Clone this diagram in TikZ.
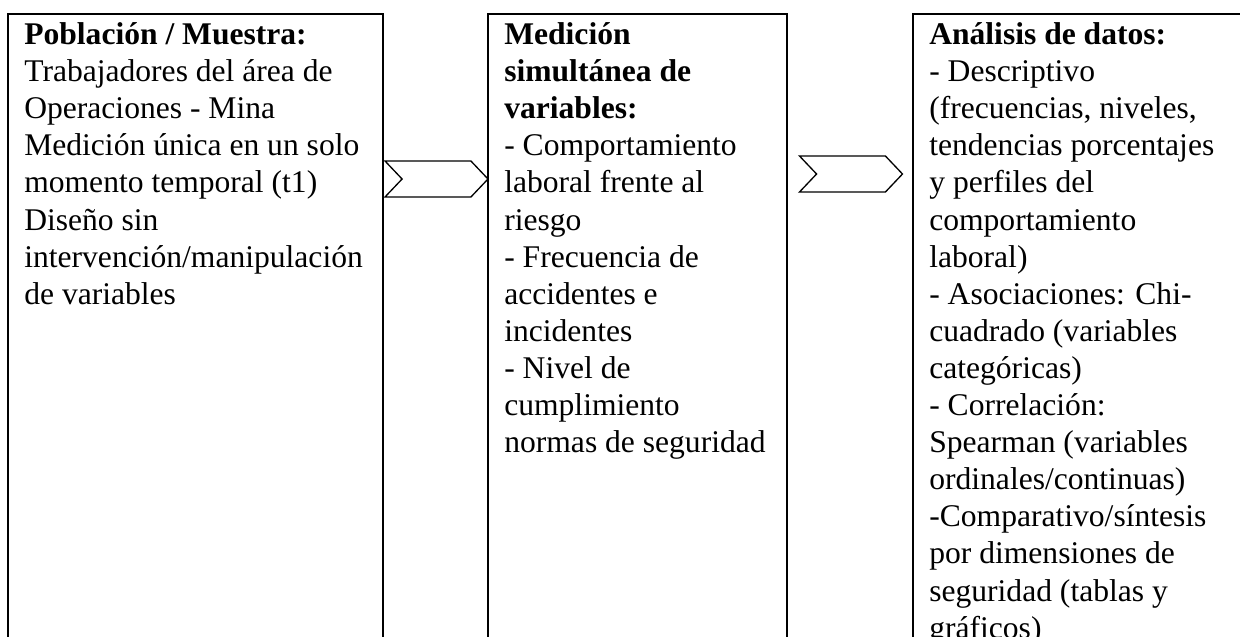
\documentclass[tikz,border=0pt]{standalone}
\usepackage{fontspec}
\setmainfont{Liberation Serif}
\usetikzlibrary{shapes.symbols}

\def\pxu{0.38pt}
\newcommand{\alto}{\rule{0pt}{11.4pt}}
\tikzstyle{panel}=[draw, line width=0.76pt, inner sep=0pt, outer sep=0pt, anchor=north west, minimum height=700*\pxu]
\tikzstyle{txt}=[anchor=north west, align=left, inner xsep=6pt, inner ysep=0pt, font=\fontsize{12pt}{14.1pt}\selectfont]
\tikzstyle{chevron}=[draw, line width=0.5pt, signal, signal from=west, signal to=east, signal pointer angle=93, inner sep=0pt, minimum height=36*\pxu, minimum width=103*\pxu]

\begin{document}
\begin{tikzpicture}[x=0.38pt, y=-0.38pt]
      \useasboundingbox (0,0) rectangle (1240,637);
      \clip (0,0) rectangle (1240,637);

      \node[panel, minimum width=375*\pxu] (pob) at (8,14) {};
      \node[panel, minimum width=299*\pxu] (med) at (488,14) {};
      \node[panel, minimum width=340*\pxu] (ana) at (913,14) {};

      \node[txt] (pobtxt) at (pob.north west) {\alto\textbf{Población / Muestra:}\\
        Trabajadores del área de\\ Operaciones - Mina\\ Medición única en un solo\\
        momento temporal (t1)\\ Diseño sin\\ intervención/manipulación\\ de variables};
      \node[txt] (medtxt) at (med.north west) {\alto\textbf{Medición}\\ \textbf{simultánea de}\\
        \textbf{variables:}\\ - Comportamiento\\ laboral frente al\\ riesgo\\
        - Frecuencia de\\ accidentes e\\ incidentes\\ - Nivel de\\ cumplimiento\\
        normas de seguridad};
      \node[txt] (anatxt) at (ana.north west) {\alto\textbf{Análisis de datos:}\\
        - Descriptivo\\ (frecuencias, niveles,\\ tendencias porcentajes\\ y perfiles del\\
        comportamiento\\ laboral)\\ - Asociaciones: Chi-\\ cuadrado (variables\\
        categóricas)\\ - Correlación:\\ Spearman (variables\\ ordinales/continuas)\\
        -Comparativo/síntesis\\ por dimensiones de\\ seguridad (tablas y\\ gráficos)};

      \node[chevron] (flechaA) at (436.5,179) {};
      \node[chevron] (flechaB) at (851,174) {};
    \end{tikzpicture}
\end{document}
